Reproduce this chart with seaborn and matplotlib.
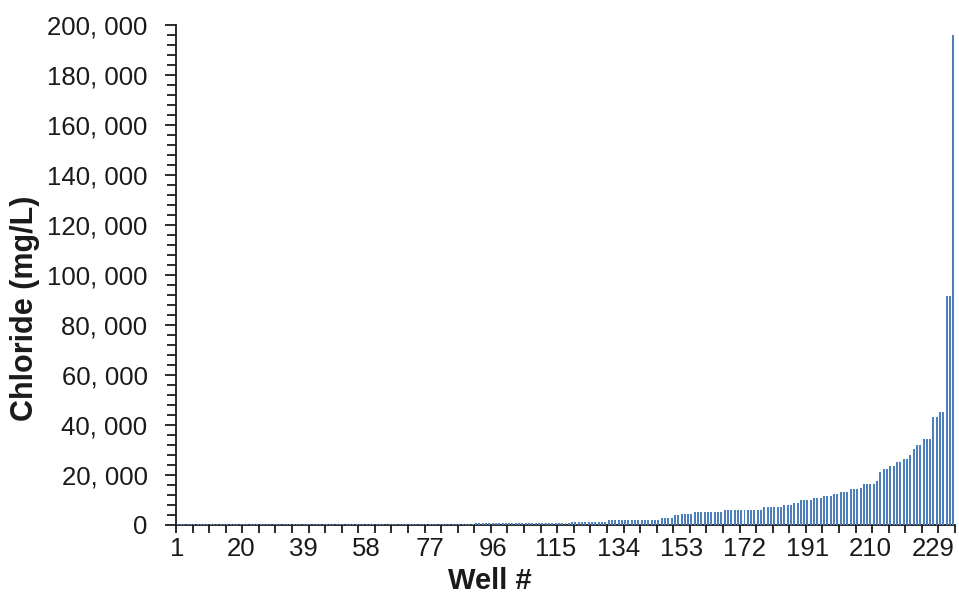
import matplotlib
matplotlib.use("Agg")
import matplotlib.pyplot as plt
import matplotlib.ticker as mticker
import seaborn as sns
import pandas as pd
import numpy as np

# Chloride (mg/L), wells sorted ascending
low_wells_a = [500] * 40          # wells 1-40
low_wells_b = [550] * 50          # wells 41-90
low_wells_c = [650] * 29          # wells 91-119
mid_wells = ([1400] * 11 + [2200] * 16 + [3000] * 4 + [4000] * 2 + [4600] * 4 +
             [5400] * 9 + [6200] * 12 + [7300] * 6 + [8100] * 3 + [8900] * 2 +
             [9900] * 4 + [10700] * 3 + [11500] * 3 + [12300] * 2 + [13200] * 3 +
             [14400] * 3 + [15000] + [16600] * 4 + [17700])   # wells 120-212
high_wells = [21400, 22400, 22400, 23700, 23700, 25400, 25400, 26400, 26400,
              28100, 30400, 32000, 32000, 34400, 34400, 34400, 43300, 43300,
              45400, 45400, 91500, 91500, 196000]               # wells 213-235

chloride = low_wells_a + low_wells_b + low_wells_c + mid_wells + high_wells
wells = [str(i) for i in range(1, len(chloride) + 1)]
label_every = 19
y_ticks = [0, 20000, 40000, 60000, 80000, 100000, 120000, 140000, 160000, 180000, 200000]

df = pd.DataFrame({"Well": wells, "Chloride": chloride})

sns.set_theme(style="white")
plt.rcParams["font.family"] = ["Liberation Sans", "DejaVu Sans"]

fig = plt.figure(figsize=(9.59, 5.96), dpi=100)
ax = fig.add_axes([176 / 959, 1 - 525 / 596, 779 / 959, 500 / 596])

sns.barplot(data=df, x="Well", y="Chloride", color="#4d7fbd", width=0.6,
            saturation=1, linewidth=0, ax=ax, order=wells, zorder=3)

n = len(wells)
ax.set_xlim(-0.5, n - 0.5)
ax.set_ylim(0, 200000)

# x ticks: labels every 19 wells, tick marks every 5 wells at category boundaries
label_pos = list(range(0, n, label_every))
ax.set_xticks(label_pos)
ax.set_xticklabels([wells[i] for i in label_pos])
ax.xaxis.set_minor_locator(mticker.FixedLocator(np.arange(-0.5, n, 5)))
ax.tick_params(axis="x", which="major", length=0, pad=9, labelsize=18.5, colors="#1a1a1a")
ax.tick_params(axis="x", which="minor", length=6, width=1.3, color="#1a1a1a", direction="out", bottom=True)

# y ticks
ax.set_yticks(y_ticks)
ax.yaxis.set_major_formatter(mticker.FuncFormatter(lambda v, p: f"{int(v):,}".replace(",", ", ")))
ax.yaxis.set_minor_locator(mticker.MultipleLocator(4000))
ax.tick_params(axis="y", which="major", length=8, width=1.3, pad=12.5, labelsize=18.5,
               color="#1a1a1a", labelcolor="#1a1a1a", direction="out", left=True)
ax.tick_params(axis="y", which="minor", length=6.5, width=1.3, color="#1a1a1a",
               direction="out", left=True)

for s in ["top", "right"]:
    ax.spines[s].set_visible(False)
for s in ["left", "bottom"]:
    ax.spines[s].set_color("#1a1a1a")
    ax.spines[s].set_linewidth(1.3)

ax.set_xlabel("Well #", fontsize=21, fontweight="bold", color="#1a1a1a", va="center")
ax.set_ylabel("Chloride (mg/L)", fontsize=22, fontweight="bold", color="#1a1a1a", va="center")
ax.xaxis.set_label_coords((490 - 176) / 779, (525 - 581) / 500)
ax.yaxis.set_label_coords((25 - 176) / 779, (525 - 308) / 500)

fig.savefig("out.png", dpi=100, facecolor="white")
